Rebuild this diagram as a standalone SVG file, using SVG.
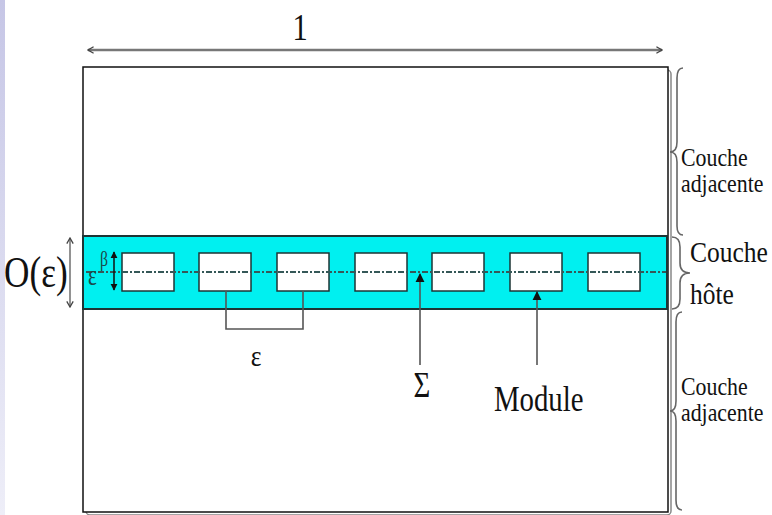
<svg xmlns="http://www.w3.org/2000/svg" width="772" height="515" viewBox="0 0 772 515">
<defs>
<linearGradient id="strip" x1="0" y1="0" x2="0" y2="1">
<stop offset="0" stop-color="#c6c6e6"/>
<stop offset="1" stop-color="#eeeef8"/>
</linearGradient>
<marker id="chev" viewBox="0 0 10 10" refX="9" refY="5" markerWidth="8" markerHeight="8" orient="auto-start-reverse" markerUnits="userSpaceOnUse">
<path d="M2,1 L9,5 L2,9" fill="none" stroke="#444" stroke-width="1.6"/>
</marker>
<marker id="tri" viewBox="0 0 10 10" refX="9" refY="5" markerWidth="9" markerHeight="11" orient="auto-start-reverse" markerUnits="userSpaceOnUse">
<path d="M0,0 L10,5 L0,10 Z" fill="#111"/>
</marker>
<marker id="triS" viewBox="0 0 10 10" refX="9" refY="5" markerWidth="7" markerHeight="8" orient="auto-start-reverse" markerUnits="userSpaceOnUse">
<path d="M0,0 L10,5 L0,10 Z" fill="#111"/>
</marker>
</defs>
<style>
.t{font-family:"Liberation Serif","Times New Roman",serif;fill:#111}
.mod{fill:#fff;stroke:#1d3535;stroke-width:1.5}
.brace{fill:none;stroke:#666;stroke-width:1.6}
.ln{fill:none;stroke:#555;stroke-width:1.6}
</style>
<rect x="0" y="0" width="772" height="515" fill="#fff"/>
<rect x="0" y="0" width="5" height="515" fill="url(#strip)"/>

<g id="outer">
<rect x="86" y="70" width="585" height="445" rx="4" fill="none" stroke="#888" stroke-width="1.5"/>
<rect x="83" y="67" width="585" height="445" fill="#fff" stroke="#111" stroke-width="1.5"/>
</g>

<g id="band">
<rect x="83" y="236" width="584" height="73" fill="#00f0f0" stroke="#1d3535" stroke-width="2"/>
</g>

<g id="modules">
<rect id="m1" class="mod" x="122" y="253" width="52" height="38"/>
<rect id="m2" class="mod" x="199" y="253" width="52" height="38"/>
<rect id="m3" class="mod" x="277" y="253" width="52" height="38"/>
<rect id="m4" class="mod" x="355" y="253" width="52" height="38"/>
<rect id="m5" class="mod" x="432" y="253" width="52" height="38"/>
<rect id="m6" class="mod" x="510" y="253" width="52" height="38"/>
<rect id="m7" class="mod" x="588" y="253" width="52" height="38"/>
</g>

<g id="connectors">
<line x1="86" y1="272" x2="666" y2="272" stroke="#355858" stroke-width="2" stroke-dasharray="6,2,2,2"/>
<line x1="88" y1="50" x2="662" y2="50" stroke="#777" stroke-width="2.5" marker-start="url(#chev)" marker-end="url(#chev)"/>
<line x1="70" y1="238" x2="70" y2="307" stroke="#777" stroke-width="1.6" marker-start="url(#chev)" marker-end="url(#chev)"/>
<line x1="114" y1="252" x2="114" y2="290" stroke="#111" stroke-width="1.5" marker-start="url(#triS)" marker-end="url(#triS)"/>
<path class="ln" d="M226,291 L226,329 L303,329 L303,291"/>
<line x1="420" y1="365" x2="420" y2="274" stroke="#555" stroke-width="1.6" marker-end="url(#tri)"/>
<line x1="537" y1="365" x2="537" y2="292" stroke="#555" stroke-width="1.6" marker-end="url(#tri)"/>
<path class="brace" d="M683,68 Q677,68 677,78 L677,142 Q677,152 670,152 Q677,152 677,162 L677,226 Q677,235 683,235"/>
<path class="brace" d="M672,237 Q680,237 680,247 L680,263 Q680,273 690,273 Q680,273 680,283 L680,299 Q680,309 672,309"/>
<path class="brace" d="M682,312 Q676,312 676,322 L676,401 Q676,411 670,411 Q676,411 676,421 L676,500 Q676,510 682,510"/>
</g>

<g id="labels">
<text class="t" font-size="38" text-anchor="middle" transform="translate(300,40) scale(0.8,1)">1</text>
<text class="t" font-size="44" transform="translate(4,287) scale(0.8,1)">O(ε)</text>
<text class="t" font-size="30" style="fill:#1a4a4a" transform="translate(88,285) scale(0.7,1)">ε</text>
<text class="t" font-size="21" style="fill:#1a4a4a" transform="translate(100,266) scale(0.75,1)">β</text>
<text class="t" font-size="30" text-anchor="middle" transform="translate(256,366) scale(0.85,1)">ε</text>
<text class="t" font-size="36" text-anchor="middle" transform="translate(422,397) scale(0.8,1)">Σ</text>
<text class="t" font-size="36" transform="translate(494,411) scale(0.8,1)">Module</text>
<text class="t" font-size="26" transform="translate(681,166) scale(0.84,1)">Couche</text>
<text class="t" font-size="26" transform="translate(681,192) scale(0.84,1)">adjacente</text>
<text class="t" font-size="30" transform="translate(690,262) scale(0.85,1)">Couche</text>
<text class="t" font-size="30" transform="translate(690,304) scale(0.85,1)">hôte</text>
<text class="t" font-size="26" transform="translate(681,395) scale(0.84,1)">Couche</text>
<text class="t" font-size="26" transform="translate(681,421) scale(0.84,1)">adjacente</text>
</g>
</svg>
